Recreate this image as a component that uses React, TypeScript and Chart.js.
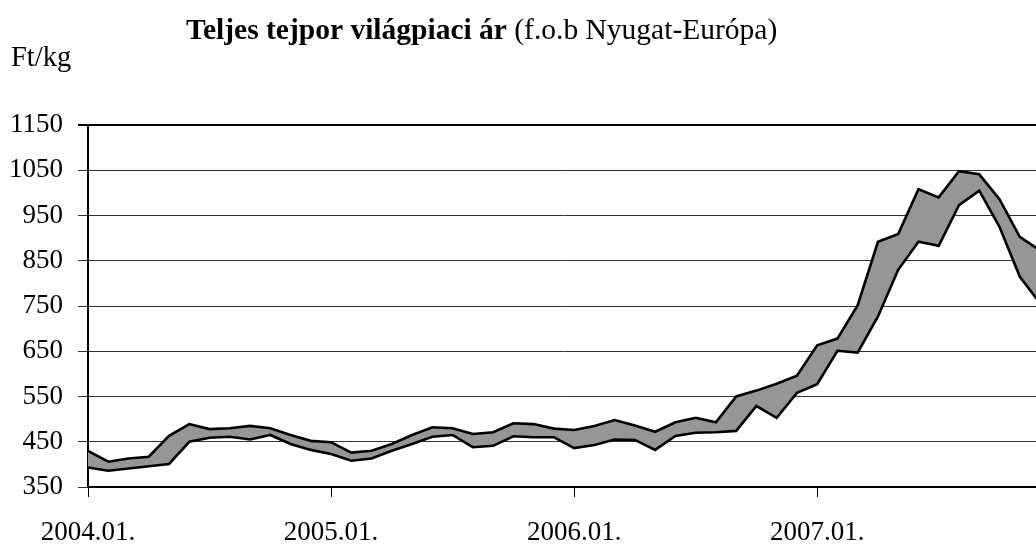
import React, { useEffect, useRef } from 'react';
import { Chart, registerables } from 'chart.js';

Chart.register(...registerables);

// ---- data ----
const years = ['2004', '2005', '2006', '2007'];
const months = ['01', '02', '03', '04', '05', '06', '07', '08', '09', '10', '11', '12'];
const categories: string[] = years.flatMap((y) => months.map((m) => `${y}.${m}.`));

// upper edge of the price band (Ft/kg)
const upperPrice = [
  430, 406, 413, 417, 463, 489, 478, 480, 485, 480, 465, 452,
  449, 426, 430, 445, 465, 482, 480, 467, 471, 491, 489, 479,
  476, 485, 498, 486, 472, 493, 503, 493, 550, 563, 578, 596,
  663, 678, 752, 892, 909, 1008, 990, 1048, 1041, 986, 903, 873,
];

// lower edge of the price band (Ft/kg)
const lowerPrice = [
  393, 386, 391, 396, 401, 450, 459, 461, 455, 465, 445, 432,
  423, 408, 413, 430, 445, 461, 465, 438, 441, 462, 460, 460,
  436, 443, 455, 454, 432, 463, 470, 471, 474, 529, 503, 558,
  577, 651, 647, 727, 830, 892, 883, 973, 1005, 925, 815, 756,
];

const yMin = 350;
const yMax = 1150;
const yStep = 100;

const titleBold = 'Teljes tejpor világpiaci ár';
const titleNormal = ' (f.o.b Nyugat-Európa)';
const unitLabel = 'Ft/kg';

const FONT = '"Liberation Serif", "Times New Roman", serif';

const titlePlugin = {
  id: 'customTitle',
  afterDraw(chart: any) {
    const ctx = chart.ctx as CanvasRenderingContext2D;
    ctx.save();
    ctx.fillStyle = '#000';
    ctx.textBaseline = 'alphabetic';
    ctx.textAlign = 'left';
    ctx.font = `bold 29.5px ${FONT}`;
    ctx.fillText(titleBold, 186, 39);
    const w = ctx.measureText(titleBold).width;
    ctx.font = `29.5px ${FONT}`;
    ctx.fillText(titleNormal, 186 + w, 39);
    ctx.font = `28.5px ${FONT}`;
    ctx.fillText(unitLabel, 11, 66);
    ctx.restore();
  },
};

export default function App() {
  const ref = useRef<HTMLCanvasElement | null>(null);

  useEffect(() => {
    if (!ref.current) return;
    const chart = new Chart(ref.current, {
      type: 'line',
      data: {
        labels: categories,
        datasets: [
          {
            label: 'felső',
            data: upperPrice,
            borderColor: '#000',
            borderWidth: 2.6,
            backgroundColor: '#969696',
            fill: '+1',
            pointRadius: 0,
            tension: 0,
            borderJoinStyle: 'miter',
          },
          {
            label: 'alsó',
            data: lowerPrice,
            borderColor: '#000',
            borderWidth: 2.6,
            backgroundColor: '#969696',
            fill: false,
            pointRadius: 0,
            tension: 0,
            borderJoinStyle: 'miter',
          },
        ],
      },
      options: {
        animation: false,
        responsive: false,
        layout: { padding: { left: 8, right: 19, top: 125, bottom: 0 } },
        plugins: {
          legend: { display: false },
          tooltip: { enabled: false },
          title: { display: false },
          filler: { drawTime: 'beforeDatasetsDraw' },
        },
        scales: {
          x: {
            type: 'category',
            offset: false,
            grid: {
              drawOnChartArea: false,
              drawTicks: true,
              tickLength: 10,
              lineWidth: 1,
              color: (c: any) => (c.index % 12 === 0 ? '#000' : 'rgba(0,0,0,0)'),
            },
            border: { display: true, color: '#000', width: 2 },
            ticks: {
              autoSkip: false,
              maxRotation: 0,
              minRotation: 0,
              padding: 20,
              color: '#000',
              font: { family: FONT, size: 27 },
              callback: (_v: any, i: number) => (i % 12 === 0 ? categories[i] : ''),
            },
            afterFit: (s: any) => {
              s.height = 59;
            },
          },
          y: {
            min: yMin,
            max: yMax,
            grid: {
              color: (c: any) => (c.tick && c.tick.value === yMax ? '#000' : '#333'),
              lineWidth: (c: any) => (c.tick && c.tick.value === yMax ? 2 : 1),
              tickLength: 10,
            },
            border: { display: true, color: '#000', width: 2 },
            ticks: {
              stepSize: yStep,
              padding: 15,
              color: '#000',
              font: { family: FONT, size: 27 },
              callback: (v: any) => String(v),
            },
            afterFit: (s: any) => {
              s.width = 80;
            },
          },
        },
      },
      plugins: [titlePlugin],
    } as any);
    return () => chart.destroy();
  }, []);

  return (
    <div
      style={{
        position: 'fixed',
        left: 0,
        top: 0,
        width: 1036,
        height: 546,
        overflow: 'hidden',
        background: '#fff',
      }}
    >
      <canvas ref={ref} width={1060} height={546} style={{ display: 'block' }} />
    </div>
  );
}
